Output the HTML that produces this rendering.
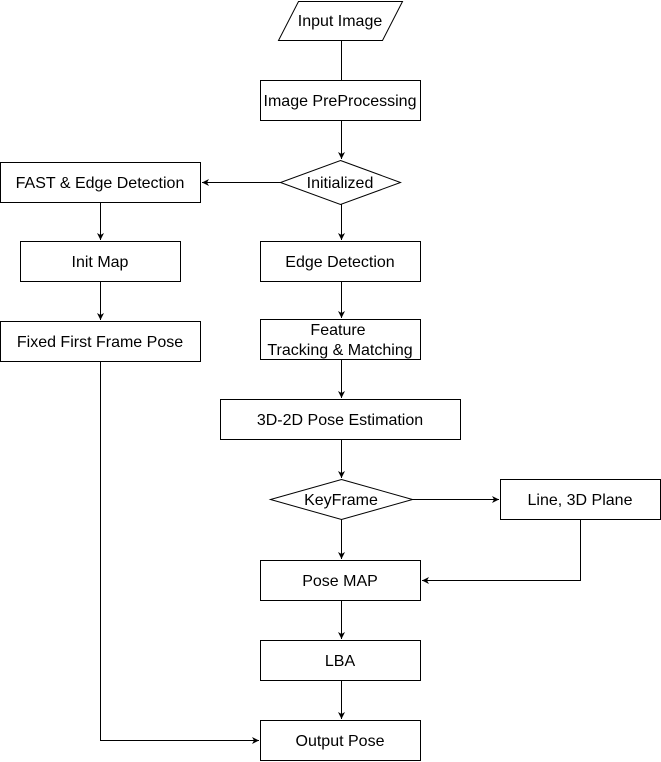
<!DOCTYPE html>
<html><head><style>html,body{margin:0;padding:0;background:#fff}svg{display:block}</style></head>
<body>
<svg width="661" height="762" viewBox="0 0 661 762" xmlns="http://www.w3.org/2000/svg" font-family="Liberation Sans, sans-serif" font-size="16">
<defs><marker id="a" markerWidth="8" markerHeight="8" refX="7" refY="4" orient="auto" markerUnits="userSpaceOnUse"><path d="M0,0.5 L7,4 L0,7.5 L2,4 Z" fill="#000"/></marker></defs>
<g fill="#fff" stroke="#000" stroke-width="1">
<polygon points="298.5,1.5 402.5,1.5 382.5,40.5 278.5,40.5"/>
<rect x="260.5" y="80.5" width="160" height="40"/>
<polygon points="340.5,160.5 400.5,182.5 340.5,204.5 280.5,182.5"/>
<rect x="0.5" y="162.5" width="200" height="40"/>
<rect x="20.5" y="241.5" width="160" height="40"/>
<rect x="0.5" y="321.5" width="200" height="40"/>
<rect x="260.5" y="241.5" width="160" height="40"/>
<rect x="260.5" y="319.5" width="160" height="40"/>
<rect x="220.5" y="399.5" width="240" height="40"/>
<polygon points="341.5,479.5 412.5,499.5 341.5,519.5 270.5,499.5"/>
<rect x="500.5" y="479.5" width="160" height="40"/>
<rect x="260.5" y="560.5" width="160" height="40"/>
<rect x="260.5" y="640.5" width="160" height="40"/>
<rect x="260.5" y="720.5" width="160" height="40"/>
</g>
<g fill="none" stroke="#000" stroke-width="1">
<path d="M341.5 40.5 V80.5"/>
<path d="M341.5 120.5 V159" marker-end="url(#a)"/>
<path d="M280.5 182.5 H202" marker-end="url(#a)"/>
<path d="M100.5 202.5 V240" marker-end="url(#a)"/>
<path d="M100.5 281.5 V320" marker-end="url(#a)"/>
<path d="M100.5 361.5 V740.5 H259" marker-end="url(#a)"/>
<path d="M341.5 204.5 V240" marker-end="url(#a)"/>
<path d="M341.5 281.5 V318" marker-end="url(#a)"/>
<path d="M341.5 359.5 V398" marker-end="url(#a)"/>
<path d="M341.5 439.5 V478" marker-end="url(#a)"/>
<path d="M412.5 499.5 H499" marker-end="url(#a)"/>
<path d="M580.5 519.5 V580.5 H422" marker-end="url(#a)"/>
<path d="M341.5 519.5 V559" marker-end="url(#a)"/>
<path d="M341.5 600.5 V639" marker-end="url(#a)"/>
<path d="M341.5 680.5 V719" marker-end="url(#a)"/>
</g>
<g fill="#000" text-anchor="middle">
<text x="340" y="26">Input Image</text>
<text x="340" y="106">Image PreProcessing</text>
<text x="340" y="188">Initialized</text>
<text x="100" y="188">FAST &amp; Edge Detection</text>
<text x="100" y="267">Init Map</text>
<text x="100" y="347">Fixed First Frame Pose</text>
<text x="340" y="267">Edge Detection</text>
<text x="338" y="335">Feature</text>
<text x="340" y="355">Tracking &amp; Matching</text>
<text x="340" y="425">3D-2D Pose Estimation</text>
<text x="341" y="505">KeyFrame</text>
<text x="580" y="505">Line, 3D Plane</text>
<text x="340" y="586">Pose MAP</text>
<text x="340" y="666">LBA</text>
<text x="340" y="746">Output Pose</text>
</g>
</svg>
</body></html>
